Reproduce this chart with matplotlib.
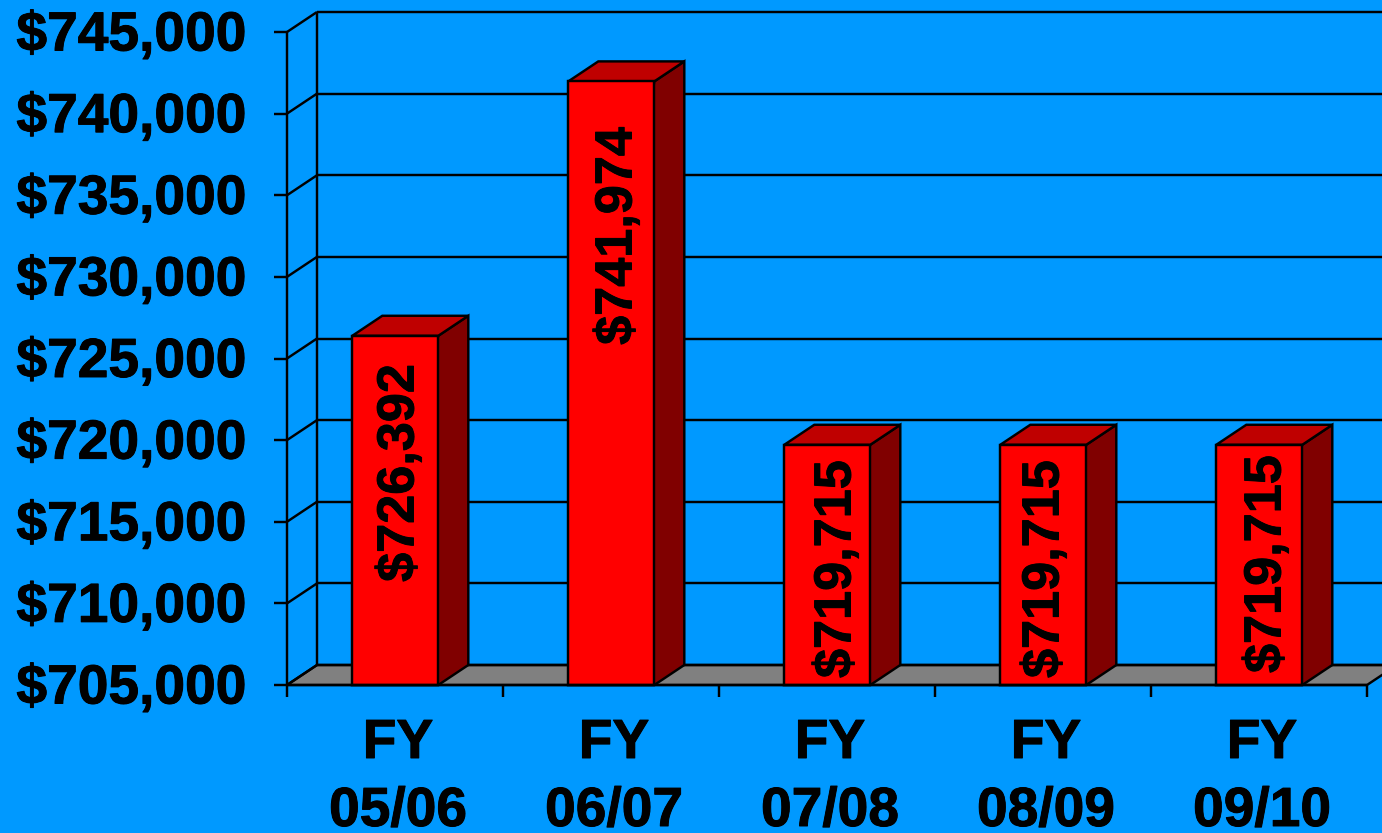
import matplotlib
matplotlib.use("Agg")
import matplotlib.pyplot as plt
from matplotlib.patches import Polygon
from matplotlib.transforms import Affine2D
import matplotlib.patheffects as pe

# values
fiscal_years = ["05/06", "06/07", "07/08", "08/09", "09/10"]
budget = [726392, 741974, 719715, 719715, 719715]
budget_labels = ["$726,392", "$741,974", "$719,715", "$719,715", "$719,715"]
y_ticks = [705000, 710000, 715000, 720000, 725000, 730000, 735000, 740000, 745000]

BLUE = "#0099FF"
GREY = "#808080"
RED_FRONT = "#FF0000"
RED_TOP = "#BF0000"
RED_SIDE = "#800000"
LW = 1.75
FONT = "Liberation Sans"
HEAVY = [pe.withStroke(linewidth=0.7, foreground="black")]

# plot area in pixels of the 1382x833 picture (front plane of the fake 3D box)
fig = plt.figure(figsize=(13.82, 8.33), dpi=100, facecolor=BLUE)
ax = fig.add_axes([287 / 1382, (833 - 685) / 833, 1080 / 1382, 653 / 833])
ax.set_xlim(0, 5)
ax.set_ylim(y_ticks[0], y_ticks[-1])
ax.patch.set_visible(False)
for s in ax.spines.values():
    s.set_visible(False)

# depth of the box in data units (30 px right, 20 px up)
dx = 30 / 216
dy = 20 / (653 / 40000)
y0 = y_ticks[0]
bar_w = 86 / 216


def poly(pts, color, z):
    ax.add_patch(Polygon(pts, closed=True, facecolor=color, edgecolor="black",
                         linewidth=LW, joinstyle="miter", clip_on=False, zorder=z))


def line(xs, ys, z=2):
    ax.plot(xs, ys, color="black", lw=LW, clip_on=False, zorder=z,
            solid_capstyle="butt")


# floor
poly([(0, y0), (5, y0), (5 + dx, y0 + dy), (dx, y0 + dy)], GREY, 1)

# walls and grid
for v in y_ticks:
    line([dx, 5 + dx], [v + dy, v + dy])
    line([0, dx], [v, v + dy])
line([dx, dx], [y0 + dy, y_ticks[-1] + dy])
line([0, 0], [y0, y_ticks[-1]])
line([0, 5], [y0, y0], z=6)

# bars
label_shift_x = [5, 7, 10, 2, 8]
label_centers = [473, 236, 569, 569, 564]
for i, val in enumerate(budget):
    left = i + 0.5 - bar_w / 2 + 0.3 / 216
    right = left + bar_w
    poly([(left, y0), (right, y0), (right + dx, y0 + dy), (right + dx, val + dy), (right, val)],
         RED_SIDE, 3)
    poly([(left, val), (right, val), (right + dx, val + dy), (left + dx, val + dy)], RED_TOP, 3)
    poly([(left, y0), (right, y0), (right, val), (left, val)], RED_FRONT, 4)
    ax.text(i + 0.5 + label_shift_x[i] / 216, y0 + (685 - label_centers[i]) / (653 / 40000),
            budget_labels[i], rotation=90, ha="center", va="center", fontsize=37.6,
            fontweight="bold", family=FONT, color="black", zorder=7, path_effects=HEAVY)

# axes ticks and labels
ax.set_yticks(y_ticks)
ax.set_yticklabels([f"${v:,}" for v in y_ticks], fontsize=39.7, fontweight="bold", family=FONT,
                   path_effects=HEAVY)
ax.tick_params(axis="y", length=9.4, width=LW, pad=20, color="black", labelcolor="black")
ax.set_xticks(range(6))
ax.set_xticklabels([])
ax.tick_params(axis="x", length=8.6, width=LW, color="black")
for tick in ax.xaxis.get_major_ticks() + ax.yaxis.get_major_ticks():
    tick.tick1line.set_clip_on(False)
for lab in ax.get_yticklabels():
    lab.set_transform(lab.get_transform() + Affine2D().translate(0, 1.5))

for i, fy in enumerate(fiscal_years):
    x = i + 0.5 + 3 / 216
    ax.annotate("FY", (x, y0), xytext=(0, -59), textcoords="offset pixels", ha="center",
                va="center", fontsize=39.7, fontweight="bold", family=FONT, annotation_clip=False,
                path_effects=HEAVY)
    ax.annotate(fy, (x, y0), xytext=(0, -127), textcoords="offset pixels", ha="center",
                va="center", fontsize=39.7, fontweight="bold", family=FONT, annotation_clip=False,
                path_effects=HEAVY)

fig.savefig("out.png", dpi=100, facecolor=BLUE)
